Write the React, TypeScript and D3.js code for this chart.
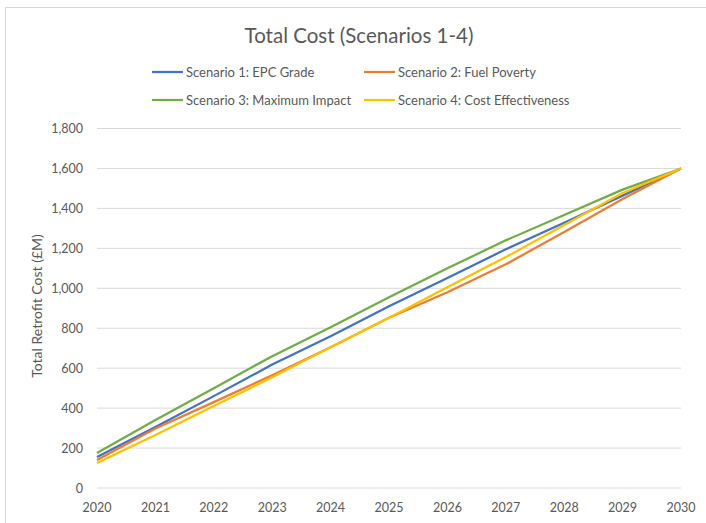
import React from "react";
import * as d3 from "d3";

const years = [2020, 2021, 2022, 2023, 2024, 2025, 2026, 2027, 2028, 2029, 2030];
const scenario1 = [155, 305, 460, 618, 760, 910, 1052, 1195, 1328, 1464, 1600];
const scenario2 = [140, 298, 430, 565, 705, 852, 980, 1120, 1282, 1447, 1600];
const scenario3 = [175, 340, 500, 660, 805, 955, 1100, 1240, 1367, 1494, 1600];
const scenario4 = [125, 265, 410, 555, 705, 852, 1005, 1156, 1317, 1477, 1600];
const yTicks = [0, 200, 400, 600, 800, 1000, 1200, 1400, 1600, 1800];
const seriesNames = [
  "Scenario 1: EPC Grade",
  "Scenario 2: Fuel Poverty",
  "Scenario 3: Maximum Impact",
  "Scenario 4: Cost Effectiveness",
];
const colors = ["#4472C4", "#ED7D31", "#70AD47", "#FFC000"];

const W = 706;
const H = 523;
const FONT = "Lato, 'Open Sans', sans-serif";

export default function App() {
  const x = d3.scaleLinear().domain([2020, 2030]).range([97, 681]);
  const y = d3.scaleLinear().domain([0, 1800]).range([488, 128.5]);
  const line = d3
    .line<number>()
    .x((_, i) => x(years[i]))
    .y((d) => y(d));
  const series = [scenario1, scenario2, scenario3, scenario4];
  const legendPos = [
    [152, 72],
    [364, 72],
    [152, 100],
    [364, 100],
  ];
  return (
    <svg
      width={W}
      height={H}
      style={{ position: "absolute", left: 0, top: 0, background: "#fff" }}
      fontFamily={FONT}
    >
      <rect x={5.5} y={7.5} width={720} height={540} fill="#fff" stroke="#D9D9D9" strokeWidth={1} />
      <text x={359} y={43} textAnchor="middle" fontSize={20.5} fill="#595959">
        Total Cost (Scenarios 1-4)
      </text>
      {seriesNames.map((n, i) => (
        <g key={n}>
          <line
            x1={legendPos[i][0]}
            x2={legendPos[i][0] + 31}
            y1={legendPos[i][1]}
            y2={legendPos[i][1]}
            stroke={colors[i]}
            strokeWidth={2.25}
          />
          <text x={legendPos[i][0] + 34} y={legendPos[i][1] + 4.8} fontSize={13} fill="#595959">
            {n}
          </text>
        </g>
      ))}
      {yTicks.map((t) => (
        <g key={t}>
          <line x1={97} x2={681} y1={y(t)} y2={y(t)} stroke="#D9D9D9" strokeWidth={1} />
          <text x={83} y={y(t) + 4.5} textAnchor="end" fontSize={12.5} fill="#595959">
            {d3.format(",")(t)}
          </text>
        </g>
      ))}
      {years.map((yr) => (
        <text key={yr} x={x(yr)} y={512} textAnchor="middle" fontSize={12.5} fill="#595959">
          {yr}
        </text>
      ))}
      <text
        transform={`translate(42,306) rotate(-90)`}
        textAnchor="middle"
        fontSize={14}
        fill="#595959"
      >
        Total Retrofit Cost (£M)
      </text>
      {series.map((s, i) => (
        <path key={i} d={line(s) || ""} fill="none" stroke={colors[i]} strokeWidth={2.25} strokeLinejoin="round" />
      ))}
    </svg>
  );
}
